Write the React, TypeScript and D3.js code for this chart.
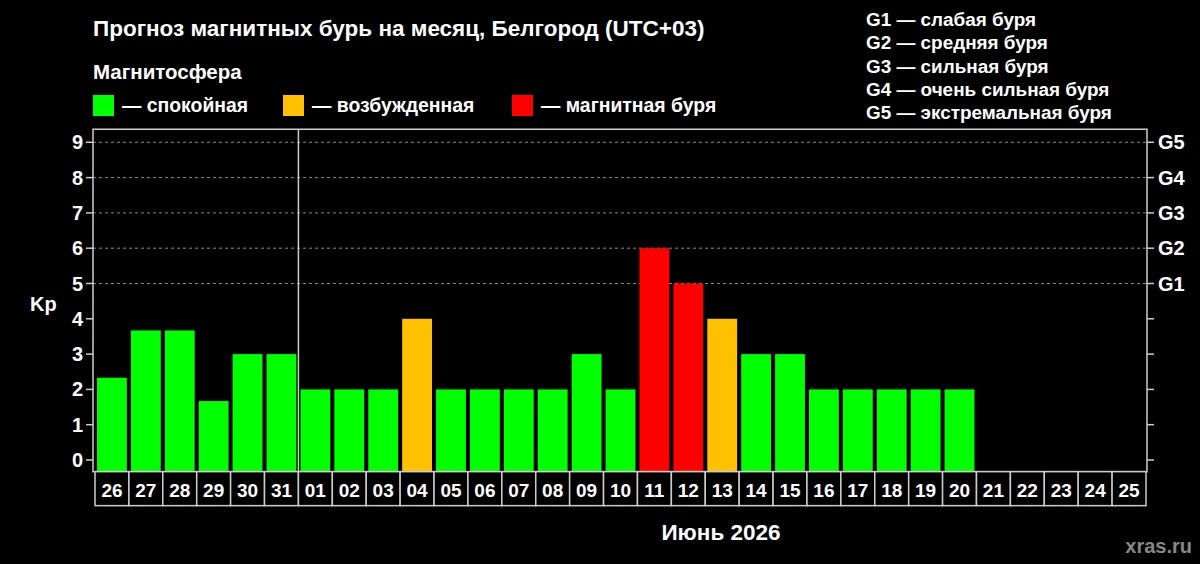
import { useEffect } from 'react';
import * as d3 from 'd3';

const DAYS = ['26', '27', '28', '29', '30', '31', '01', '02', '03', '04', '05', '06', '07', '08', '09', '10',
  '11', '12', '13', '14', '15', '16', '17', '18', '19', '20', '21', '22', '23', '24', '25'];
const KP: (number | null)[] = [2.33, 3.67, 3.67, 1.67, 3, 3, 2, 2, 2, 4, 2, 2, 2, 2, 3, 2,
  6, 5, 4, 3, 3, 2, 2, 2, 2, 2, null, null, null, null, null];
const KP_TICKS = [0, 1, 2, 3, 4, 5, 6, 7, 8, 9];
const G_LABELS = ['G1', 'G2', 'G3', 'G4', 'G5'];
const G_TEXT = ['G1 — слабая буря', 'G2 — средняя буря', 'G3 — сильная буря', 'G4 — очень сильная буря', 'G5 — экстремальная буря'];
const LEVELS = [
  { label: '— спокойная', color: '#00ff00' },
  { label: '— возбужденная', color: '#ffc000' },
  { label: '— магнитная буря', color: '#ff0000' },
];

const W = 1200;
const H = 564;
const FONT = '"Liberation Sans", Arial, sans-serif';
const margin = { left: 93, right: 1147, top: 129, bottom: 471 };

function levelColor(v: number) {
  if (v >= 5) return LEVELS[2].color;
  if (v >= 4) return LEVELS[1].color;
  return LEVELS[0].color;
}

export default function App() {
  useEffect(() => {
    document.body.style.margin = '0';
    document.body.style.background = '#000';
  }, []);

  // day cells sit slightly right of the frame's left edge
  const x = d3.scaleBand<string>().domain(DAYS).range([95, 1146]).paddingInner(0.12).paddingOuter(0.06);
  const cell = d3.scaleBand<string>().domain(DAYS).range([95, 1146]);
  const y = d3.scaleLinear().domain([0, 9]).range([460, 142.3]);
  const yTop = y(9.37);
  const yBot = y(-0.33);
  const sepX = cell('01')!;
  const legendX = [93, 283, 512];

  return (
    <svg width={W} height={H} style={{ display: 'block', background: '#000' }} fontFamily={FONT} fontWeight="bold">
      <text x={93} y={36} fill="#fff" fontSize={22.5}>Прогноз магнитных бурь на месяц, Белгород (UTC+03)</text>
      <text x={93} y={79} fill="#fff" fontSize={20.5}>Магнитосфера</text>
      {LEVELS.map((l, i) => (
        <g key={l.label}>
          <rect x={legendX[i]} y={95} width={21} height={21} fill={l.color} />
          <text x={legendX[i] + 29} y={112} fill="#fff" fontSize={19.4}>{l.label}</text>
        </g>
      ))}
      {G_TEXT.map((t, i) => (
        <text key={t} x={866} y={26 + i * 23.3} fill="#fff" fontSize={18.9}>{t}</text>
      ))}

      {/* grid */}
      {KP_TICKS.filter(v => v >= 5).map(v => (
        <line key={v} x1={margin.left} x2={margin.right} y1={y(v)} y2={y(v)} stroke="#888" strokeDasharray="3,3" strokeWidth={1} />
      ))}

      {/* bars */}
      {DAYS.map((d, i) => {
        const v = KP[i];
        if (v == null) return null;
        return <rect key={d} x={x(d)} y={y(v)} width={x.bandwidth()} height={yBot - y(v)} fill={levelColor(v)} />;
      })}

      {/* frame */}
      <rect x={margin.left} y={yTop} width={margin.right - margin.left} height={yBot - yTop} fill="none" stroke="#ccc" strokeWidth={1.5} />
      <line x1={sepX} x2={sepX} y1={yTop} y2={yBot} stroke="#ccc" strokeWidth={1.5} />

      {/* left axis */}
      {KP_TICKS.map(v => (
        <g key={v}>
          <line x1={margin.left - 7} x2={margin.left} y1={y(v)} y2={y(v)} stroke="#ccc" strokeWidth={1.5} />
          <text x={margin.left - 10} y={y(v) + 7} textAnchor="end" fill="#fff" fontSize={20}>{v}</text>
        </g>
      ))}
      <text x={30} y={311} fill="#fff" fontSize={20}>Kp</text>

      {/* right axis */}
      {KP_TICKS.map(v => (
        <g key={v}>
          <line x1={margin.right} x2={margin.right + 7} y1={y(v)} y2={y(v)} stroke="#ccc" strokeWidth={1.5} />
          {v >= 5 && (
            <text x={margin.right + 11} y={y(v) + 7} fill="#fff" fontSize={20}>{G_LABELS[v - 5]}</text>
          )}
        </g>
      ))}

      {/* date cells */}
      {DAYS.map(d => (
        <g key={d}>
          <rect x={cell(d)!} y={yBot} width={cell.bandwidth()} height={34} fill="#000" stroke="#ccc" strokeWidth={1.5} />
          <text x={cell(d)! + cell.bandwidth() / 2} y={yBot + 25} textAnchor="middle" fill="#fff" fontSize={19}>{d}</text>
        </g>
      ))}

      <text x={721} y={540} textAnchor="middle" fill="#fff" fontSize={22.5}>Июнь 2026</text>
      <text x={1192} y={553} textAnchor="end" fill="#888" fontSize={20}>xras.ru</text>
    </svg>
  );
}
